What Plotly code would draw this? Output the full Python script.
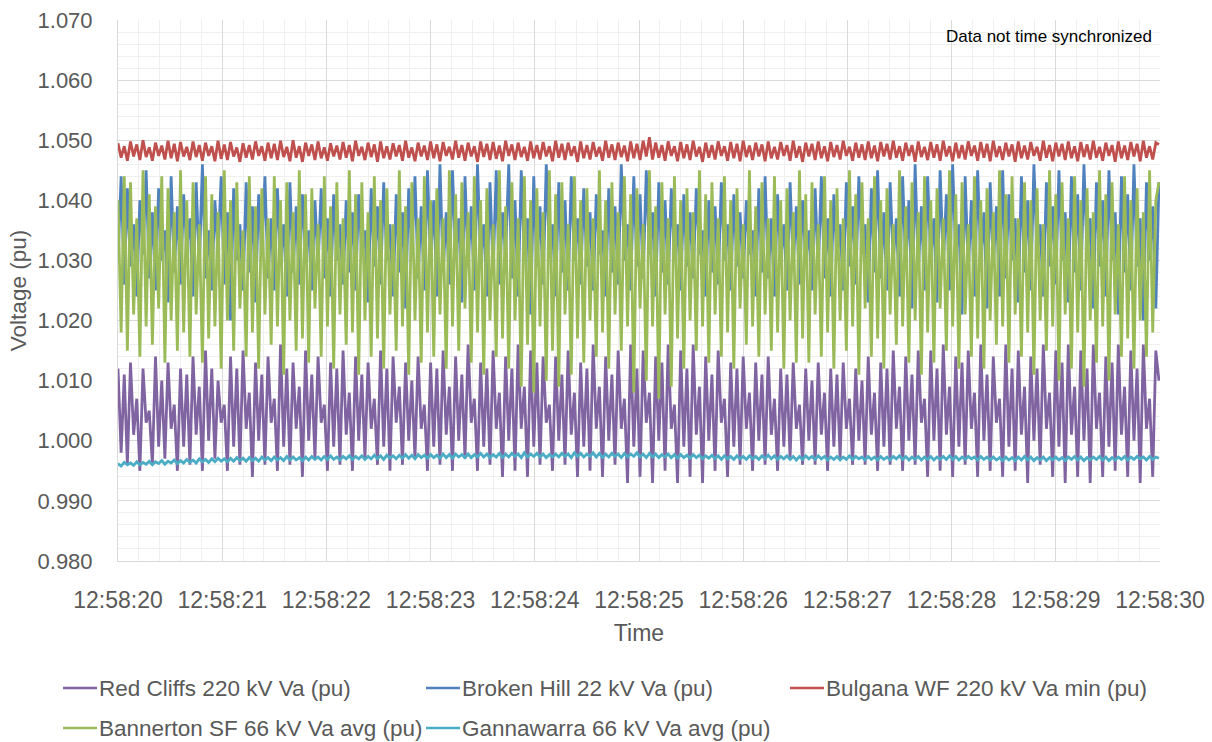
import pandas as pd
import plotly.graph_objects as go

# ---- data (pu), sampled every 30 ms from 12:58:20 ----
start_time = "2021-01-01 12:58:20"
end_time = "2021-01-01 12:58:30"
sample_ms = 30

red_cliffs = [
    1.012, 0.998, 1.011, 0.996, 1.013, 1.001, 1.007, 0.995, 1.012, 1.003, 1.005, 0.996, 1.014, 0.999, 1.010, 0.997, 1.013, 1.002, 1.006, 0.995,
    1.012, 0.999, 1.011, 0.996, 1.014, 1.001, 1.009, 0.995, 1.015, 1.000, 1.012, 0.997, 1.010, 1.003, 1.006, 0.995, 1.014, 0.999, 1.012, 0.996,
    1.015, 1.002, 1.008, 0.994, 1.013, 1.000, 1.011, 0.996, 1.014, 1.003, 1.007, 0.995, 1.016, 0.999, 1.012, 0.996, 1.013, 1.002, 1.009, 0.994,
    1.015, 1.000, 1.011, 0.997, 1.014, 1.003, 1.006, 0.995, 1.013, 0.999, 1.012, 0.996, 1.015, 1.001, 1.008, 0.995, 1.014, 1.000, 1.011, 0.997,
    1.013, 1.002, 1.007, 0.996, 1.015, 0.999, 1.012, 0.995, 1.014, 1.003, 1.009, 0.996, 1.013, 1.000, 1.010, 0.997, 1.014, 1.002, 1.006, 0.995,
    1.013, 0.999, 1.012, 0.996, 1.015, 1.001, 1.009, 0.995, 1.014, 1.000, 1.011, 0.997, 1.016, 1.003, 1.007, 0.995, 1.013, 0.999, 1.012, 0.996,
    1.015, 1.002, 1.008, 0.994, 1.014, 1.000, 1.012, 0.995, 1.016, 1.002, 1.009, 0.994, 1.015, 0.999, 1.013, 0.996, 1.014, 1.003, 1.006, 0.995,
    1.014, 1.000, 1.011, 0.996, 1.015, 1.001, 1.008, 0.994, 1.013, 0.999, 1.012, 0.995, 1.016, 1.002, 1.009, 0.994, 1.014, 1.000, 1.011, 0.996,
    1.015, 1.002, 1.007, 0.993, 1.016, 0.999, 1.012, 0.994, 1.015, 1.003, 1.008, 0.993, 1.014, 1.000, 1.013, 0.995, 1.016, 1.002, 1.006, 0.993,
    1.015, 0.999, 1.012, 0.994, 1.016, 1.001, 1.009, 0.993, 1.014, 1.000, 1.011, 0.995, 1.015, 1.003, 1.007, 0.994, 1.013, 0.999, 1.012, 0.996,
    1.014, 1.002, 1.008, 0.995, 1.013, 1.000, 1.011, 0.996, 1.014, 1.001, 1.007, 0.995, 1.012, 0.999, 1.011, 0.997, 1.013, 1.002, 1.006, 0.996,
    1.012, 1.000, 1.010, 0.996, 1.013, 1.001, 1.008, 0.995, 1.012, 0.999, 1.011, 0.997, 1.013, 1.002, 1.007, 0.996, 1.012, 1.000, 1.010, 0.996,
    1.014, 1.001, 1.008, 0.995, 1.013, 0.999, 1.012, 0.996, 1.015, 1.002, 1.009, 0.995, 1.014, 1.000, 1.011, 0.996, 1.015, 1.003, 1.007, 0.994,
    1.015, 1.000, 1.012, 0.995, 1.016, 1.001, 1.009, 0.994, 1.014, 0.999, 1.013, 0.996, 1.015, 1.002, 1.008, 0.994, 1.016, 1.000, 1.011, 0.995,
    1.014, 1.003, 1.007, 0.994, 1.016, 0.999, 1.012, 0.995, 1.015, 1.001, 1.009, 0.993, 1.014, 1.000, 1.012, 0.996, 1.016, 1.002, 1.008, 0.994,
    1.015, 0.999, 1.013, 0.993, 1.016, 1.001, 1.009, 0.994, 1.015, 1.000, 1.012, 0.993, 1.016, 1.002, 1.008, 0.994, 1.014, 0.999, 1.013, 0.995,
    1.016, 1.001, 1.009, 0.994, 1.015, 1.000, 1.012, 0.993, 1.016, 1.002, 1.007, 0.994, 1.015, 1.010,
]

broken_hill = [
    1.030, 1.044, 1.026, 1.042, 1.029, 1.036, 1.024, 1.040, 1.031, 1.045, 1.027, 1.038, 1.025, 1.042, 1.030, 1.035, 1.023, 1.044, 1.028, 1.039,
    1.026, 1.041, 1.032, 1.037, 1.024, 1.043, 1.029, 1.046, 1.027, 1.035, 1.025, 1.040, 1.031, 1.044, 1.026, 1.038, 1.020, 1.042, 1.030, 1.036,
    1.025, 1.043, 1.028, 1.039, 1.023, 1.041, 1.031, 1.044, 1.027, 1.037, 1.025, 1.042, 1.030, 1.036, 1.024, 1.043, 1.028, 1.039, 1.026, 1.041,
    1.031, 1.035, 1.025, 1.040, 1.029, 1.042, 1.027, 1.037, 1.024, 1.041, 1.030, 1.036, 1.026, 1.040, 1.028, 1.038, 1.025, 1.041, 1.031, 1.035,
    1.023, 1.042, 1.029, 1.039, 1.026, 1.043, 1.030, 1.036, 1.024, 1.041, 1.028, 1.038, 1.022, 1.042, 1.031, 1.044, 1.027, 1.039, 1.025, 1.045,
    1.030, 1.040, 1.024, 1.046, 1.028, 1.038, 1.026, 1.045, 1.031, 1.037, 1.023, 1.044, 1.029, 1.039, 1.025, 1.046, 1.030, 1.036, 1.024, 1.043,
    1.028, 1.045, 1.026, 1.038, 1.031, 1.046, 1.027, 1.040, 1.024, 1.045, 1.030, 1.037, 1.021, 1.044, 1.029, 1.039, 1.026, 1.046, 1.031, 1.036,
    1.024, 1.043, 1.028, 1.040, 1.025, 1.044, 1.030, 1.037, 1.026, 1.042, 1.029, 1.038, 1.025, 1.041, 1.031, 1.035, 1.024, 1.042, 1.028, 1.039,
    1.026, 1.046, 1.030, 1.036, 1.025, 1.044, 1.029, 1.041, 1.027, 1.045, 1.031, 1.038, 1.024, 1.043, 1.028, 1.040, 1.026, 1.042, 1.030, 1.036,
    1.025, 1.041, 1.029, 1.038, 1.027, 1.042, 1.031, 1.035, 1.024, 1.040, 1.028, 1.039, 1.026, 1.043, 1.030, 1.036, 1.025, 1.041, 1.029, 1.038,
    1.027, 1.040, 1.031, 1.035, 1.024, 1.042, 1.028, 1.044, 1.027, 1.037, 1.024, 1.041, 1.030, 1.036, 1.025, 1.043, 1.029, 1.039, 1.026, 1.040,
    1.030, 1.035, 1.025, 1.042, 1.028, 1.044, 1.027, 1.037, 1.024, 1.041, 1.030, 1.036, 1.025, 1.043, 1.029, 1.039, 1.026, 1.044, 1.031, 1.036,
    1.023, 1.042, 1.028, 1.045, 1.027, 1.038, 1.025, 1.043, 1.030, 1.037, 1.024, 1.044, 1.029, 1.040, 1.022, 1.046, 1.028, 1.039, 1.025, 1.044,
    1.030, 1.037, 1.023, 1.045, 1.029, 1.041, 1.025, 1.046, 1.031, 1.036, 1.021, 1.044, 1.028, 1.040, 1.024, 1.045, 1.030, 1.038, 1.022, 1.043,
    1.029, 1.039, 1.024, 1.045, 1.027, 1.041, 1.030, 1.037, 1.023, 1.044, 1.028, 1.040, 1.025, 1.046, 1.031, 1.036, 1.024, 1.043, 1.029, 1.039,
    1.026, 1.045, 1.030, 1.038, 1.023, 1.044, 1.028, 1.041, 1.025, 1.046, 1.031, 1.037, 1.022, 1.043, 1.029, 1.040, 1.024, 1.045, 1.030, 1.038,
    1.021, 1.044, 1.028, 1.041, 1.025, 1.046, 1.029, 1.037, 1.020, 1.043, 1.030, 1.039, 1.022, 1.043,
]

bulgana_wf = [
    1.0495, 1.0471, 1.0490, 1.0466, 1.0498, 1.0473, 1.0493, 1.0467, 1.0500, 1.0472, 1.0488, 1.0466, 1.0496, 1.0474, 1.0491, 1.0468, 1.0499, 1.0470, 1.0494, 1.0465,
    1.0497, 1.0473, 1.0489, 1.0467, 1.0498, 1.0472, 1.0492, 1.0466, 1.0496, 1.0474, 1.0490, 1.0465, 1.0499, 1.0469, 1.0493, 1.0467, 1.0497, 1.0473, 1.0488, 1.0464,
    1.0495, 1.0471, 1.0492, 1.0468, 1.0498, 1.0474, 1.0490, 1.0466, 1.0496, 1.0470, 1.0494, 1.0467, 1.0499, 1.0472, 1.0489, 1.0465, 1.0500, 1.0471, 1.0490, 1.0464,
    1.0496, 1.0474, 1.0493, 1.0467, 1.0498, 1.0470, 1.0488, 1.0466, 1.0495, 1.0473, 1.0491, 1.0468, 1.0497, 1.0471, 1.0492, 1.0465, 1.0499, 1.0474, 1.0489, 1.0467,
    1.0496, 1.0472, 1.0493, 1.0464, 1.0498, 1.0470, 1.0490, 1.0468, 1.0495, 1.0473, 1.0492, 1.0466, 1.0499, 1.0471, 1.0488, 1.0465, 1.0496, 1.0473, 1.0491, 1.0467,
    1.0498, 1.0470, 1.0493, 1.0465, 1.0497, 1.0474, 1.0489, 1.0468, 1.0499, 1.0471, 1.0492, 1.0466, 1.0496, 1.0473, 1.0490, 1.0464, 1.0498, 1.0472, 1.0494, 1.0467,
    1.0497, 1.0469, 1.0491, 1.0465, 1.0499, 1.0474, 1.0493, 1.0467, 1.0496, 1.0472, 1.0489, 1.0466, 1.0498, 1.0470, 1.0492, 1.0468, 1.0497, 1.0473, 1.0490, 1.0465,
    1.0499, 1.0471, 1.0494, 1.0467, 1.0496, 1.0474, 1.0490, 1.0464, 1.0498, 1.0470, 1.0492, 1.0468, 1.0497, 1.0473, 1.0489, 1.0466, 1.0499, 1.0471, 1.0493, 1.0467,
    1.0496, 1.0472, 1.0491, 1.0465, 1.0498, 1.0470, 1.0494, 1.0467, 1.0499, 1.0473, 1.0505, 1.0468, 1.0496, 1.0471, 1.0492, 1.0466, 1.0498, 1.0474, 1.0490, 1.0465,
    1.0497, 1.0470, 1.0493, 1.0467, 1.0499, 1.0473, 1.0489, 1.0464, 1.0496, 1.0471, 1.0492, 1.0468, 1.0498, 1.0474, 1.0490, 1.0466, 1.0497, 1.0470, 1.0494, 1.0465,
    1.0499, 1.0472, 1.0491, 1.0467, 1.0496, 1.0473, 1.0493, 1.0465, 1.0498, 1.0470, 1.0489, 1.0468, 1.0497, 1.0474, 1.0492, 1.0466, 1.0499, 1.0471, 1.0490, 1.0464,
    1.0496, 1.0473, 1.0494, 1.0467, 1.0498, 1.0470, 1.0490, 1.0465, 1.0497, 1.0472, 1.0492, 1.0468, 1.0499, 1.0474, 1.0489, 1.0466, 1.0496, 1.0471, 1.0493, 1.0467,
    1.0498, 1.0470, 1.0491, 1.0465, 1.0497, 1.0473, 1.0494, 1.0468, 1.0499, 1.0471, 1.0490, 1.0466, 1.0496, 1.0474, 1.0492, 1.0464, 1.0498, 1.0472, 1.0489, 1.0467,
    1.0497, 1.0471, 1.0493, 1.0466, 1.0499, 1.0473, 1.0490, 1.0465, 1.0496, 1.0470, 1.0492, 1.0468, 1.0498, 1.0474, 1.0491, 1.0466, 1.0497, 1.0471, 1.0494, 1.0465,
    1.0499, 1.0472, 1.0490, 1.0467, 1.0496, 1.0473, 1.0493, 1.0464, 1.0498, 1.0470, 1.0491, 1.0468, 1.0497, 1.0474, 1.0489, 1.0466, 1.0499, 1.0471, 1.0492, 1.0465,
    1.0496, 1.0473, 1.0494, 1.0467, 1.0498, 1.0470, 1.0490, 1.0465, 1.0497, 1.0472, 1.0493, 1.0468, 1.0499, 1.0471, 1.0489, 1.0466, 1.0496, 1.0474, 1.0492, 1.0464,
    1.0498, 1.0470, 1.0491, 1.0467, 1.0497, 1.0473, 1.0494, 1.0465, 1.0499, 1.0471, 1.0490, 1.0468, 1.0496, 1.0493,
]

bannerton_sf = [
    1.040, 1.018, 1.044, 1.015, 1.043, 1.021, 1.037, 1.014, 1.045, 1.019, 1.041, 1.016, 1.039, 1.022, 1.044, 1.013, 1.042, 1.020, 1.038, 1.015,
    1.045, 1.018, 1.040, 1.014, 1.043, 1.021, 1.036, 1.013, 1.044, 1.017, 1.041, 1.019, 1.038, 1.012, 1.045, 1.020, 1.040, 1.015, 1.043, 1.022,
    1.035, 1.014, 1.044, 1.018, 1.039, 1.012, 1.042, 1.021, 1.037, 1.016, 1.044, 1.019, 1.040, 1.011, 1.043, 1.020, 1.038, 1.015, 1.045, 1.017,
    1.041, 1.013, 1.042, 1.022, 1.036, 1.014, 1.044, 1.019, 1.039, 1.012, 1.043, 1.021, 1.037, 1.016, 1.045, 1.018, 1.041, 1.011, 1.043, 1.020,
    1.038, 1.014, 1.044, 1.017, 1.040, 1.012, 1.042, 1.021, 1.036, 1.015, 1.045, 1.019, 1.039, 1.011, 1.043, 1.020, 1.037, 1.013, 1.044, 1.018,
    1.040, 1.014, 1.042, 1.021, 1.037, 1.012, 1.045, 1.019, 1.041, 1.015, 1.043, 1.022, 1.038, 1.013, 1.044, 1.018, 1.040, 1.011, 1.042, 1.020,
    1.036, 1.014, 1.045, 1.017, 1.039, 1.012, 1.043, 1.020, 1.037, 1.009, 1.044, 1.016, 1.040, 1.008, 1.042, 1.019, 1.038, 1.010, 1.045, 1.015,
    1.041, 1.009, 1.043, 1.021, 1.036, 1.011, 1.044, 1.017, 1.040, 1.013, 1.042, 1.020, 1.037, 1.014, 1.045, 1.018, 1.040, 1.012, 1.043, 1.021,
    1.038, 1.015, 1.044, 1.019, 1.041, 1.008, 1.042, 1.022, 1.036, 1.010, 1.045, 1.019, 1.039, 1.007, 1.043, 1.021, 1.037, 1.009, 1.044, 1.017,
    1.040, 1.012, 1.042, 1.020, 1.038, 1.015, 1.045, 1.019, 1.041, 1.013, 1.043, 1.021, 1.037, 1.014, 1.044, 1.018, 1.040, 1.012, 1.042, 1.022,
    1.036, 1.016, 1.045, 1.019, 1.039, 1.014, 1.043, 1.021, 1.037, 1.015, 1.044, 1.018, 1.040, 1.012, 1.042, 1.020, 1.038, 1.013, 1.045, 1.017,
    1.041, 1.013, 1.043, 1.021, 1.036, 1.014, 1.044, 1.018, 1.040, 1.012, 1.042, 1.020, 1.037, 1.015, 1.045, 1.019, 1.041, 1.011, 1.043, 1.022,
    1.037, 1.014, 1.044, 1.017, 1.040, 1.012, 1.042, 1.021, 1.036, 1.016, 1.045, 1.019, 1.039, 1.013, 1.043, 1.020, 1.038, 1.011, 1.044, 1.018,
    1.040, 1.013, 1.042, 1.022, 1.037, 1.015, 1.045, 1.019, 1.041, 1.012, 1.043, 1.021, 1.036, 1.014, 1.044, 1.017, 1.040, 1.012, 1.042, 1.020,
    1.038, 1.016, 1.045, 1.019, 1.041, 1.013, 1.044, 1.021, 1.037, 1.014, 1.043, 1.018, 1.040, 1.011, 1.042, 1.020, 1.036, 1.015, 1.045, 1.019,
    1.041, 1.010, 1.043, 1.021, 1.037, 1.012, 1.044, 1.018, 1.040, 1.009, 1.042, 1.020, 1.038, 1.013, 1.045, 1.019, 1.041, 1.010, 1.043, 1.021,
    1.036, 1.014, 1.044, 1.017, 1.040, 1.012, 1.042, 1.020, 1.038, 1.014, 1.045, 1.018, 1.040, 1.043,
]

gannawarra = [
    0.9962, 0.9958, 0.9964, 0.9960, 0.9963, 0.9959, 0.9965, 0.9960, 0.9964, 0.9961, 0.9966, 0.9960, 0.9965, 0.9962, 0.9967, 0.9961, 0.9966, 0.9963, 0.9968, 0.9962,
    0.9967, 0.9963, 0.9969, 0.9964, 0.9968, 0.9963, 0.9970, 0.9965, 0.9969, 0.9964, 0.9970, 0.9965, 0.9971, 0.9966, 0.9970, 0.9965, 0.9971, 0.9966, 0.9972, 0.9967,
    0.9971, 0.9966, 0.9972, 0.9967, 0.9971, 0.9966, 0.9973, 0.9968, 0.9972, 0.9967, 0.9973, 0.9968, 0.9972, 0.9967, 0.9974, 0.9968, 0.9973, 0.9968, 0.9972, 0.9967,
    0.9973, 0.9968, 0.9974, 0.9969, 0.9973, 0.9968, 0.9974, 0.9969, 0.9975, 0.9969, 0.9973, 0.9968, 0.9974, 0.9970, 0.9975, 0.9969, 0.9974, 0.9970, 0.9975, 0.9969,
    0.9974, 0.9970, 0.9976, 0.9970, 0.9975, 0.9969, 0.9976, 0.9971, 0.9975, 0.9970, 0.9976, 0.9971, 0.9977, 0.9971, 0.9976, 0.9970, 0.9977, 0.9972, 0.9976, 0.9971,
    0.9977, 0.9972, 0.9976, 0.9971, 0.9978, 0.9972, 0.9977, 0.9971, 0.9978, 0.9973, 0.9977, 0.9972, 0.9978, 0.9972, 0.9977, 0.9973, 0.9979, 0.9973, 0.9978, 0.9972,
    0.9977, 0.9973, 0.9979, 0.9972, 0.9978, 0.9973, 0.9979, 0.9974, 0.9978, 0.9972, 0.9980, 0.9973, 0.9978, 0.9974, 0.9979, 0.9973, 0.9978, 0.9972, 0.9977, 0.9973,
    0.9978, 0.9973, 0.9979, 0.9974, 0.9978, 0.9972, 0.9980, 0.9974, 0.9979, 0.9973, 0.9978, 0.9974, 0.9980, 0.9973, 0.9979, 0.9972, 0.9978, 0.9973, 0.9979, 0.9974,
    0.9978, 0.9972, 0.9979, 0.9973, 0.9978, 0.9974, 0.9980, 0.9973, 0.9978, 0.9972, 0.9979, 0.9973, 0.9978, 0.9972, 0.9977, 0.9973, 0.9978, 0.9972, 0.9977, 0.9971,
    0.9977, 0.9972, 0.9976, 0.9971, 0.9977, 0.9972, 0.9976, 0.9970, 0.9975, 0.9971, 0.9976, 0.9970, 0.9975, 0.9969, 0.9975, 0.9970, 0.9974, 0.9969, 0.9975, 0.9970,
    0.9974, 0.9969, 0.9975, 0.9970, 0.9974, 0.9969, 0.9975, 0.9970, 0.9976, 0.9970, 0.9975, 0.9969, 0.9974, 0.9970, 0.9975, 0.9969, 0.9974, 0.9968, 0.9974, 0.9969,
    0.9975, 0.9970, 0.9974, 0.9969, 0.9975, 0.9970, 0.9974, 0.9968, 0.9973, 0.9969, 0.9974, 0.9968, 0.9973, 0.9969, 0.9975, 0.9969, 0.9974, 0.9970, 0.9973, 0.9968,
    0.9974, 0.9969, 0.9973, 0.9968, 0.9974, 0.9969, 0.9973, 0.9968, 0.9974, 0.9970, 0.9975, 0.9969, 0.9974, 0.9968, 0.9973, 0.9969, 0.9974, 0.9968, 0.9973, 0.9969,
    0.9974, 0.9968, 0.9973, 0.9969, 0.9974, 0.9969, 0.9975, 0.9969, 0.9974, 0.9968, 0.9973, 0.9969, 0.9974, 0.9970, 0.9973, 0.9968, 0.9974, 0.9969, 0.9973, 0.9968,
    0.9973, 0.9968, 0.9972, 0.9967, 0.9973, 0.9968, 0.9972, 0.9967, 0.9973, 0.9968, 0.9974, 0.9968, 0.9973, 0.9967, 0.9972, 0.9968, 0.9973, 0.9967, 0.9972, 0.9968,
    0.9973, 0.9968, 0.9972, 0.9967, 0.9973, 0.9969, 0.9974, 0.9968, 0.9973, 0.9967, 0.9972, 0.9968, 0.9973, 0.9969, 0.9974, 0.9968, 0.9973, 0.9967, 0.9972, 0.9968,
    0.9973, 0.9969, 0.9974, 0.9968, 0.9973, 0.9969, 0.9974, 0.9970, 0.9973, 0.9968, 0.9974, 0.9969, 0.9973, 0.9971,
]

series_names = [
    "Red Cliffs 220 kV Va (pu)",
    "Broken Hill 22 kV Va (pu)",
    "Bulgana WF 220 kV Va min (pu)",
    "Bannerton SF 66 kV Va avg (pu)",
    "Gannawarra 66 kV Va avg (pu)",
]
series_values = [red_cliffs, broken_hill, bulgana_wf, bannerton_sf, gannawarra]
series_colors = ["#8064A2", "#4F81BD", "#C0504D", "#9BBB59", "#4BACC6"]

# legend layout: (row, column) slot for each series, as in the reference
legend_slots = [(0, 0), (0, 1), (0, 2), (1, 0), (1, 1)]

time = pd.date_range(start_time, periods=len(red_cliffs), freq=f"{sample_ms}ms")

FONT = "Liberation Sans, Arial, sans-serif"
GREY = "#595959"
LINE_W = 2.8

# plot-area geometry in pixels
W, H = 1212, 742
PL, PR, PT, PB = 118, 1160, 20, 561


def px_to_paper_x(px):
    return (px - PL) / (PR - PL)


def px_to_paper_y(py):
    return (PB - py) / (PB - PT)


fig = go.Figure()
for name, vals, col in zip(series_names, series_values, series_colors):
    fig.add_trace(go.Scatter(
        x=time, y=vals, mode="lines", name=name,
        line=dict(color=col, width=LINE_W),
        showlegend=False,
    ))

# manual legend (two rows, three columns) so it can sit at the page bottom
col_x = [63, 426, 790]
row_y = [688, 728]
shapes = []
annotations = []
for name, col, (r, c) in zip(series_names, series_colors, legend_slots):
    x0 = col_x[c]
    y = row_y[r]
    shapes.append(dict(
        type="line", xref="paper", yref="paper",
        x0=px_to_paper_x(x0), x1=px_to_paper_x(x0 + 34),
        y0=px_to_paper_y(y), y1=px_to_paper_y(y),
        line=dict(color=col, width=2.5),
    ))
    annotations.append(dict(
        text=name, xref="paper", yref="paper",
        x=px_to_paper_x(x0 + 34), y=px_to_paper_y(y),
        xanchor="left", yanchor="middle", showarrow=False,
        font=dict(family=FONT, size=22.5, color=GREY),
    ))

annotations.append(dict(
    text="Data not time synchronized", xref="paper", yref="paper",
    x=0.9943, y=px_to_paper_y(37), xanchor="right", yanchor="middle", showarrow=False,
    font=dict(family=FONT, size=17, color="black"),
))

fig.update_layout(
    width=W, height=H,
    margin=dict(l=PL, r=W - PR, t=PT, b=H - PB),
    paper_bgcolor="white", plot_bgcolor="white",
    font=dict(family=FONT, size=22, color=GREY),
    showlegend=False,
    xaxis=dict(
        range=[start_time, end_time],
        tickformat="%H:%M:%S", dtick=1000,
        showgrid=True, gridcolor="#D9D9D9", gridwidth=1,
        minor=dict(dtick=200, showgrid=True, gridcolor="#EFEFEF", gridwidth=1),
        showline=True, linecolor="#D9D9D9", linewidth=1,
        ticks="", ticklabelstandoff=18,
        tickfont=dict(size=23, color=GREY),
        title=dict(text="Time", font=dict(size=23, color=GREY), standoff=13),
        zeroline=False, automargin=False,
    ),
    yaxis=dict(
        range=[0.98, 1.07], dtick=0.01, tickformat=".3f",
        showgrid=True, gridcolor="#D9D9D9", gridwidth=1,
        minor=dict(dtick=0.002, showgrid=True, gridcolor="#EFEFEF", gridwidth=1),
        showline=True, linecolor="#D9D9D9", linewidth=1,
        ticks="", ticklabelstandoff=20,
        tickfont=dict(size=22, color=GREY),
        title=dict(text="Voltage (pu)", font=dict(size=22.5, color=GREY), standoff=4),
        zeroline=False, automargin=False,
    ),
    shapes=shapes,
    annotations=annotations,
)

fig.write_html("out.html")
